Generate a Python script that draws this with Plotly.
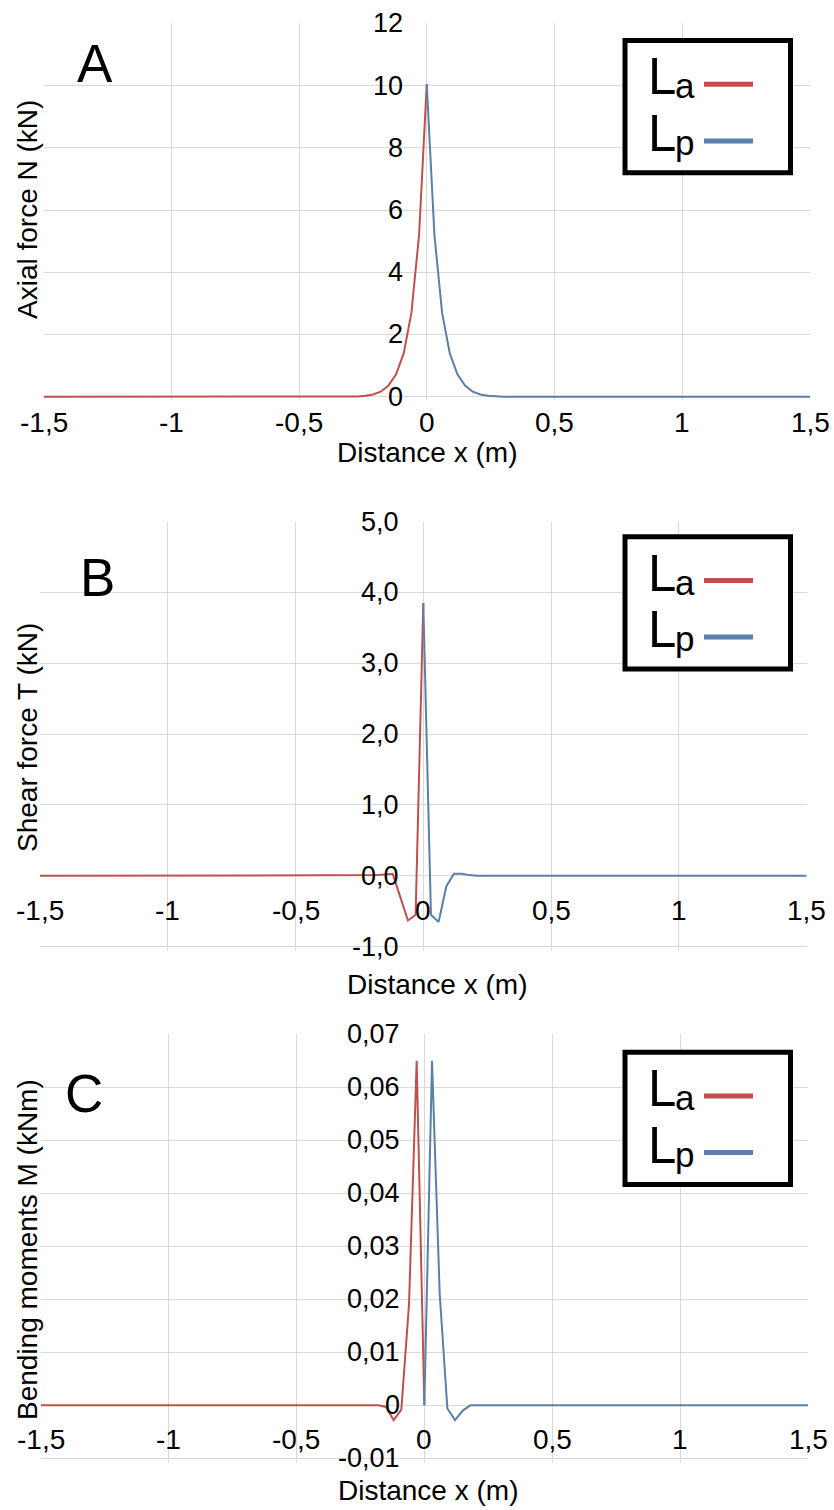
import plotly.graph_objects as go

W, H = 834, 1510

# ---------------- data ----------------
x_ticks = [-1.5, -1, -0.5, 0, 0.5, 1, 1.5]
x_tick_labels = ["-1,5", "-1", "-0,5", "0", "0,5", "1", "1,5"]

# Panel A : axial force N (kN)
a_y_ticks = [0, 2, 4, 6, 8, 10, 12]
a_y_tick_labels = ["0", "2", "4", "6", "8", "10", "12"]
a_La_x = [-1.5, -0.30, -0.27, -0.24, -0.21, -0.18, -0.15, -0.12, -0.09, -0.06, -0.03, 0.0]
a_La_y = [0, 0, 0.01, 0.03, 0.07, 0.16, 0.36, 0.72, 1.4, 2.7, 5.2, 10.05]
a_Lp_x = [0.0, 0.03, 0.06, 0.09, 0.12, 0.15, 0.18, 0.21, 0.24, 0.27, 0.30, 1.5]
a_Lp_y = [10.05, 5.2, 2.7, 1.4, 0.72, 0.36, 0.16, 0.07, 0.03, 0.01, 0, 0]

# Panel B : shear force T (kN)
b_y_ticks = [-1, 0, 1, 2, 3, 4, 5]
b_y_tick_labels = ["-1,0", "0,0", "1,0", "2,0", "3,0", "4,0", "5,0"]
b_La_x = [-1.5, -0.21, -0.18, -0.15, -0.12, -0.09, -0.06, -0.03, 0.0]
b_La_y = [0, 0, 0.01, 0.02, 0.03, -0.3, -0.63, -0.55, 3.85]
b_Lp_x = [0.0, 0.03, 0.06, 0.09, 0.12, 0.15, 0.18, 0.21, 1.5]
b_Lp_y = [3.85, -0.55, -0.65, -0.15, 0.03, 0.03, 0.01, 0, 0]

# Panel C : bending moments M (kNm)
c_y_ticks = [-0.01, 0, 0.01, 0.02, 0.03, 0.04, 0.05, 0.06, 0.07]
c_y_tick_labels = ["-0,01", "0", "0,01", "0,02", "0,03", "0,04", "0,05", "0,06", "0,07"]
c_La_x = [-1.5, -0.18, -0.15, -0.12, -0.09, -0.06, -0.03, 0.0]
c_La_y = [0, 0, -0.0003, -0.0028, -0.0008, 0.019, 0.065, 0]
c_Lp_x = [0.0, 0.03, 0.06, 0.09, 0.12, 0.15, 0.18, 1.5]
c_Lp_y = [0, 0.065, 0.021, -0.0006, -0.0028, -0.001, 0, 0]

series_main = ["L", "L"]
series_sub = ["a", "p"]
panel_letters = ["A", "B", "C"]
y_titles = ["Axial force N (kN)", "Shear force T (kN)", "Bending moments M (kNm)"]
x_title = "Distance x (m)"

# ---------------- style / layout ----------------
RED = "#C0504D"
BLUE = "#5B80A8"
GRID = "#D9D9D9"
FONT = "Liberation Sans, Arial, sans-serif"

# pixel geometry of each plot area
panels = [
    dict(l=43.5, r=810.0, t=23.3, b=396.7, yr=[0, 12], yt=a_y_ticks, ytl=a_y_tick_labels,
         La=(a_La_x, a_La_y), Lp=(a_Lp_x, a_Lp_y), xlab_shift=-26, xtitle_y=452, xtitle_x=427,
         ytitle_y=210, letter=(95, 64), leg_top=38.3),
    dict(l=40.0, r=806.6, t=521.5, b=946.7, yr=[-1, 5], yt=b_y_ticks, ytl=b_y_tick_labels,
         La=(b_La_x, b_La_y), Lp=(b_Lp_x, b_Lp_y), xlab_shift=-35, xtitle_y=984, xtitle_x=437,
         ytitle_y=738, letter=(97, 577), leg_top=534.5),
    dict(l=40.7, r=808.0, t=1034.4, b=1458.3, yr=[-0.01, 0.07], yt=c_y_ticks, ytl=c_y_tick_labels,
         La=(c_La_x, c_La_y), Lp=(c_Lp_x, c_Lp_y), xlab_shift=-34, xtitle_y=1490, xtitle_x=428,
         ytitle_y=1250, letter=(84, 1093), leg_top=1050.0),
]


def px(x):
    return x / W


def py(y):
    return 1 - y / H


fig = go.Figure()
annotations = []
shapes = []

for i, p in enumerate(panels):
    k = "" if i == 0 else str(i + 1)
    xa, ya = "x" + k, "y" + k
    y0, y1 = p["yr"]
    span = y1 - y0
    pad = span * 0.008
    ppu = (p["b"] - p["t"]) / span
    bottom_px = p["b"] + pad * ppu
    fig.add_trace(go.Scatter(x=p["La"][0], y=p["La"][1], mode="lines", name="La",
                             line=dict(color=RED, width=2), xaxis=xa, yaxis=ya, showlegend=False))
    fig.add_trace(go.Scatter(x=p["Lp"][0], y=p["Lp"][1], mode="lines", name="Lp",
                             line=dict(color=BLUE, width=2), xaxis=xa, yaxis=ya, showlegend=False))
    fig.layout["xaxis" + k] = dict(
        domain=[px(p["l"]), px(p["r"])], range=[-1.5, 1.5], anchor=ya,
        tickvals=x_ticks, showticklabels=False, showgrid=True, gridcolor=GRID, gridwidth=1,
        zeroline=False, showline=False, ticks="", fixedrange=True)
    fig.layout["yaxis" + k] = dict(
        domain=[py(bottom_px), py(p["t"])], range=[y0 - pad, y1], anchor=xa,
        tickvals=p["yt"], showticklabels=False, showgrid=True, gridcolor=GRID, gridwidth=1,
        zeroline=False, showline=False, ticks="", fixedrange=True)

    # tick labels (axes cross at x=0 / y=0)
    for v, t in zip(x_ticks, x_tick_labels):
        annotations.append(dict(x=v, y=0, xref=xa, yref=ya, text=t, showarrow=False,
                                xanchor="center", yanchor="middle", yshift=p["xlab_shift"],
                                font=dict(family=FONT, size=28, color="black")))
    for v, t in zip(p["yt"], p["ytl"]):
        annotations.append(dict(x=0, y=v, xref=xa, yref=ya, text=t, showarrow=False,
                                xanchor="right", yanchor="middle", xshift=-22,
                                font=dict(family=FONT, size=27, color="black")))
    # axis titles
    annotations.append(dict(x=px(p["xtitle_x"]), y=py(p["xtitle_y"]), xref="paper", yref="paper",
                            text=x_title, showarrow=False, xanchor="center", yanchor="middle",
                            font=dict(family=FONT, size=28, color="black")))
    annotations.append(dict(x=px(27), y=py(p["ytitle_y"]), xref="paper", yref="paper",
                            text=y_titles[i], showarrow=False, textangle=-90,
                            xanchor="center", yanchor="middle",
                            font=dict(family=FONT, size=28, color="black")))
    # panel letter
    annotations.append(dict(x=px(p["letter"][0]), y=py(p["letter"][1]), xref="paper", yref="paper",
                            text=panel_letters[i], showarrow=False, xanchor="center", yanchor="middle",
                            font=dict(family=FONT, size=53, color="black")))
    # legend box
    lt = p["leg_top"]
    shapes.append(dict(type="rect", xref="paper", yref="paper",
                       x0=px(625), x1=px(790.5), y0=py(lt + 2.3), y1=py(lt + 134.5),
                       line=dict(color="black", width=5), fillcolor="white", layer="above"))
    for j, col in enumerate([RED, BLUE]):
        row = j * 56.6
        ly = lt + 46 + row
        shapes.append(dict(type="line", xref="paper", yref="paper",
                           x0=px(704), x1=px(753), y0=py(ly), y1=py(ly),
                           line=dict(color=col, width=5), layer="above"))
        annotations.append(dict(x=px(646), y=py(lt + 38.6 + row), xref="paper", yref="paper",
                                text=series_main[j], showarrow=False, xanchor="left", yanchor="middle",
                                font=dict(family=FONT, size=51, color="black")))
        annotations.append(dict(x=px(672.5), y=py(lt + 47.5 + row), xref="paper", yref="paper",
                                text=series_sub[j], showarrow=False, xanchor="left", yanchor="middle",
                                font=dict(family=FONT, size=35, color="black")))

fig.update_layout(
    width=W, height=H, margin=dict(l=0, r=0, t=0, b=0),
    paper_bgcolor="white", plot_bgcolor="white",
    annotations=annotations, shapes=shapes, showlegend=False,
)

fig.write_html("out.html", config={"displayModeBar": False},
               post_script="document.body.style.margin='0';document.body.style.overflow='hidden';")
